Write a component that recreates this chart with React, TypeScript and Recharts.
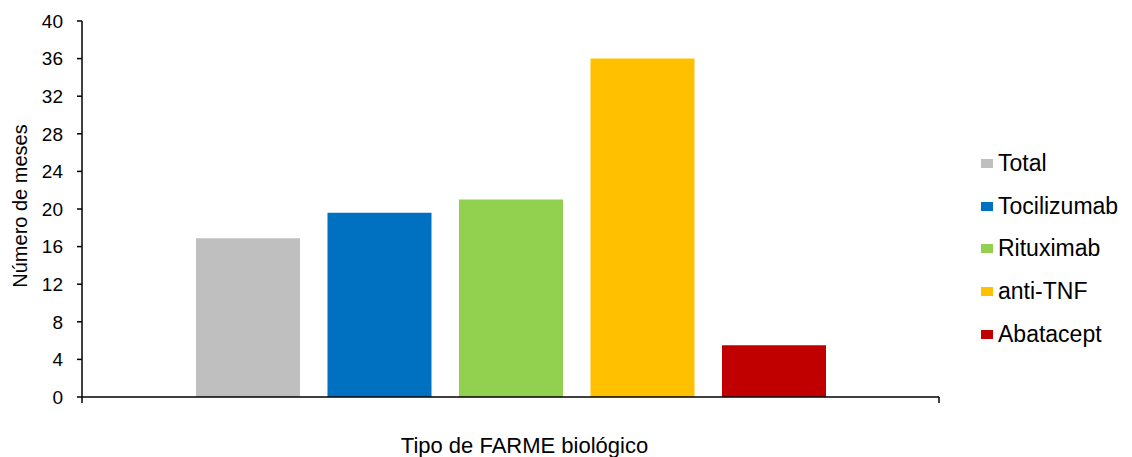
import { BarChart, Bar, XAxis, YAxis, Label } from 'recharts';

const SERIES = ['Total', 'Tocilizumab', 'Rituximab', 'anti-TNF', 'Abatacept'];
const VALUES = [16.9, 19.6, 21, 36, 5.5];
const COLORS = ['#BFBFBF', '#0070C0', '#92D050', '#FFC000', '#C00000'];
const Y_TICKS = [0, 4, 8, 12, 16, 20, 24, 28, 32, 36, 40];

const FONT = '"Liberation Sans", Arial, sans-serif';

const row: Record<string, string | number> = { name: 'FARME', edge: 0.5 };
SERIES.forEach((s, i) => {
  row[s] = VALUES[i];
});
const data = [row];

function LegendBox() {
  return (
    <div
      style={{
        position: 'absolute',
        left: 981,
        top: 142,
        width: 151,
        fontFamily: FONT,
        fontSize: 23,
        color: '#000',
        whiteSpace: 'nowrap',
      }}
    >
      {SERIES.map((s, i) => (
        <div key={s} style={{ display: 'flex', alignItems: 'center', height: 42.7 }}>
          <span
            style={{ display: 'inline-block', width: 12, height: 9, background: COLORS[i], marginRight: 5 }}
          />
          <span>{s}</span>
        </div>
      ))}
    </div>
  );
}

export default function App() {
  return (
    <div style={{ position: 'absolute', left: 0, top: 0, width: 1132, height: 457, background: '#fff' }}>
      <BarChart
        width={1132}
        height={457}
        data={data}
        margin={{ top: 21, right: 193, left: 0, bottom: 0 }}
        barGap={27.5}
        barSize={104}
      >
        <XAxis dataKey="name" xAxisId="cat" hide height={0} />
        <XAxis
          xAxisId="edge"
          dataKey="edge"
          type="number"
          domain={[0, 1]}
          allowDataOverflow
          ticks={[0, 1]}
          interval={0}
          tickFormatter={() => ''}
          tickSize={6}
          height={60}
          axisLine={{ stroke: '#000', strokeWidth: 1.5 }}
          tickLine={{ stroke: '#000', strokeWidth: 1.5 }}
        >
          <Label
            content={({ viewBox }: any) => (
              <text
                x={viewBox.x + viewBox.width / 2 + 14}
                y={viewBox.y + 56}
                textAnchor="middle"
                fontFamily={FONT}
                fontSize={22}
                fill="#000"
              >
                Tipo de FARME biológico
              </text>
            )}
          />
        </XAxis>
        <YAxis
          width={82}
          domain={[0, 40]}
          ticks={Y_TICKS}
          interval={0}
          tickSize={5}
          tickMargin={14}
          axisLine={{ stroke: '#000', strokeWidth: 1.5 }}
          tickLine={{ stroke: '#000', strokeWidth: 1.5 }}
          tick={{ fill: '#000', fontSize: 19, fontFamily: FONT }}
        >
          <Label
            content={({ viewBox }: any) => {
              const cx = 27;
              const cy = viewBox.y + viewBox.height / 2 - 3;
              return (
                <text
                  x={cx}
                  y={cy}
                  transform={`rotate(-90 ${cx} ${cy})`}
                  textAnchor="middle"
                  fontFamily={FONT}
                  fontSize={20}
                  fill="#000"
                >
                  Número de meses
                </text>
              );
            }}
          />
        </YAxis>
        {SERIES.map((s, i) => (
          <Bar key={s} dataKey={s} xAxisId="cat" fill={COLORS[i]} isAnimationActive={false} />
        ))}
      </BarChart>
      <LegendBox />
    </div>
  );
}
